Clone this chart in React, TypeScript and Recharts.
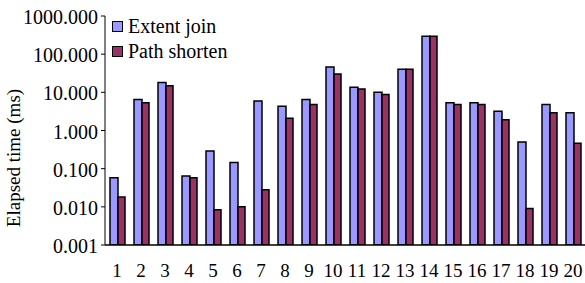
import React from 'react';
import { BarChart, Bar, XAxis, YAxis } from 'recharts';

const categories = ['1','2','3','4','5','6','7','8','9','10','11','12','13','14','15','16','17','18','19','20'];
const extentJoin = [0.058, 6.5, 18, 0.064, 0.29, 0.145, 5.9, 4.3, 6.5, 46, 13.5, 10, 40, 295, 5.3, 5.3, 3.2, 0.5, 4.8, 2.9];
const pathShorten = [0.018, 5.3, 14.8, 0.058, 0.0084, 0.0101, 0.028, 2.1, 4.8, 30, 12.2, 8.8, 40, 295, 4.8, 4.8, 1.9, 0.0091, 2.9, 0.46];
const yTicks = [0.001, 0.01, 0.1, 1, 10, 100, 1000];
const boundaryTicks = [0,1,2,3,4,5,6,7,8,9,10,11,12,13,14,15,16,17,18,19,20];
const seriesNames = ['Extent join', 'Path shorten'];
const yTitle = 'Elapsed time (ms)';

const data = categories.map((c, i) => ({ name: c, idx: i, extent: extentJoin[i], path: pathShorten[i] }));

const FONT = '"Liberation Serif", "Times New Roman", serif';
const BLUE = '#9999FF';
const RED = '#993366';

const XTick = (props: any) => {
  const { x, y, payload } = props;
  return (
    <text x={x} y={y} dy={30} textAnchor="middle" fontFamily={FONT} fontSize={19} fill="#000">
      {payload.value}
    </text>
  );
};

const YTick = (props: any) => {
  const { x, y, payload } = props;
  return (
    <text x={x} y={y} dy={8} textAnchor="end" fontFamily={FONT} fontSize={20} fill="#000">
      {Number(payload.value).toFixed(3)}
    </text>
  );
};

const YTitle = () => (
  <text
    transform="translate(20,158) rotate(-90)"
    textAnchor="middle"
    fontFamily={FONT}
    fontSize={19}
    fill="#000"
  >
    {yTitle}
  </text>
);

export default function App() {
  const colors = [BLUE, RED];
  return (
    <div style={{ position: 'absolute', left: 0, top: 0, width: 585, height: 283, background: '#fff' }}>
      <BarChart
        width={585}
        height={283}
        data={data}
        margin={{ top: 16, right: 0, bottom: 0, left: 0 }}
        barGap={0}
        barCategoryGap={4}
      >
        <XAxis
          xAxisId="b"
          type="number"
          dataKey="idx"
          domain={[0, 20]}
          ticks={boundaryTicks}
          height={0}
          axisLine={false}
          tickLine={{ stroke: '#000', strokeWidth: 1 }}
          tickSize={-3}
          tick={() => <g />}
        />
        <XAxis
          dataKey="name"
          height={38}
          axisLine={{ stroke: '#000', strokeWidth: 1.5 }}
          tickLine={false}
          tickSize={0}
          tick={<XTick />}
          interval={0}
        />
        <YAxis
          scale="log"
          domain={[0.001, 1000]}
          ticks={yTicks}
          allowDataOverflow
          width={105}
          axisLine={{ stroke: '#000', strokeWidth: 1 }}
          tickLine={{ stroke: '#000', strokeWidth: 1 }}
          tickSize={4}
          tickMargin={3}
          tick={<YTick />}
          label={<YTitle />}
        />
        <Bar dataKey="extent" name={seriesNames[0]} fill={BLUE} stroke="#000" strokeWidth={1.5} barSize={8} isAnimationActive={false} />
        <Bar dataKey="path" name={seriesNames[1]} fill={RED} stroke="#000" strokeWidth={1.5} barSize={7} isAnimationActive={false} />
      </BarChart>
      <div style={{ position: 'absolute', left: 112, top: 14, fontFamily: FONT, fontSize: 20, color: '#000', lineHeight: '25px' }}>
        {seriesNames.map((t, i) => (
          <div key={t} style={{ display: 'flex', alignItems: 'center', height: 25, whiteSpace: 'nowrap' }}>
            <span style={{ display: 'inline-block', width: 9, height: 9, background: colors[i], border: '1.5px solid #000', marginRight: 5 }} />
            <span>{t}</span>
          </div>
        ))}
      </div>
    </div>
  );
}
